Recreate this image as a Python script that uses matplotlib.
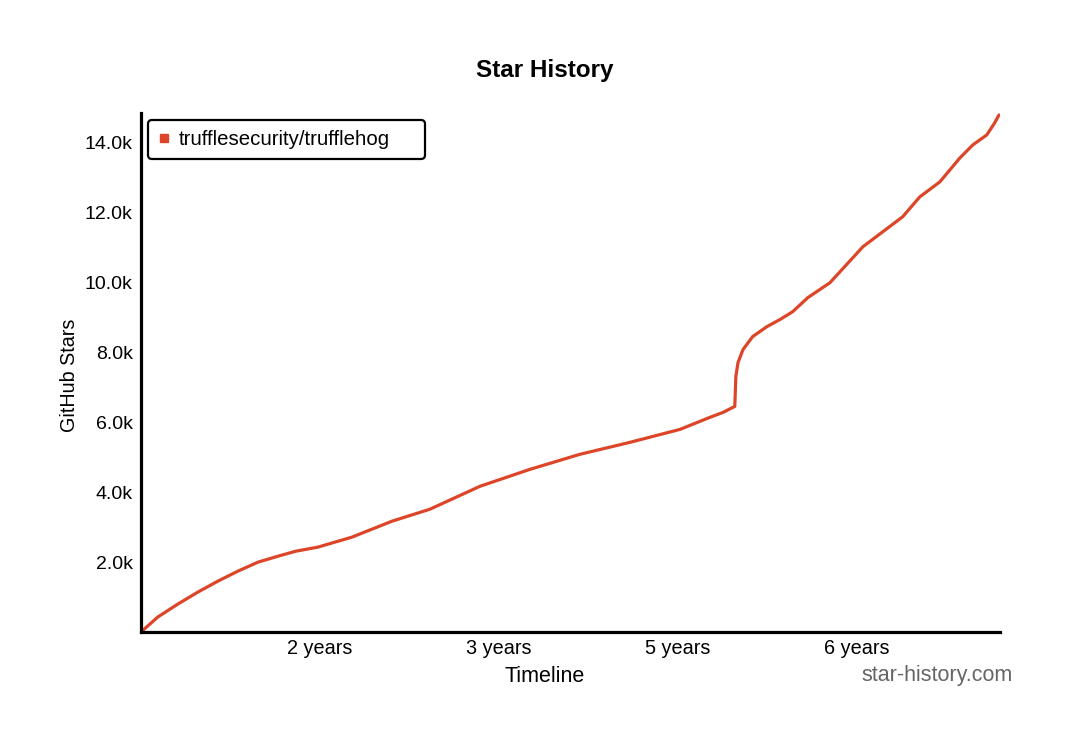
import matplotlib
matplotlib.use("Agg")
import matplotlib.pyplot as plt
from matplotlib.lines import Line2D

plt.rcParams['font.family'] = ['Liberation Sans', 'DejaVu Sans']

# days since first star vs. star count
days = [0, 47, 103, 159, 215, 271, 327, 383, 433, 494, 589, 701, 807, 947,
        1087, 1226, 1366, 1506, 1589, 1626, 1659, 1662, 1668, 1682, 1709,
        1749, 1785, 1821, 1863, 1925, 2017, 2128, 2176, 2232, 2288, 2324,
        2363, 2385, 2397]
stars = [0, 429, 800, 1143, 1457, 1743, 2000, 2171, 2314, 2429, 2714, 3171,
         3514, 4171, 4657, 5086, 5429, 5800, 6143, 6286, 6457, 7314, 7714,
         8086, 8457, 8743, 8943, 9171, 9571, 10000, 11029, 11886, 12457,
         12886, 13571, 13943, 14229, 14571, 14800]
repo = "trufflesecurity/trufflehog"

x_ticks = [500, 1000, 1500, 2000]
x_labels = ["2 years", "3 years", "5 years", "6 years"]
y_ticks = [2000, 4000, 6000, 8000, 10000, 12000, 14000]
y_labels = ["2.0k", "4.0k", "6.0k", "8.0k", "10.0k", "12.0k", "14.0k"]

red = "#dd4529"

fig = plt.figure(figsize=(10.8, 7.3), dpi=100)
ax = fig.add_axes([141/1080, 1-632/730, (1000-141)/1080, (632-113)/730])

ax.plot(days, stars, color=red, lw=2.3, solid_joinstyle='round', solid_capstyle='round')

ax.set_xlim(0, 2400)
ax.set_ylim(0, 14857)
ax.set_xticks(x_ticks, x_labels)
ax.set_yticks(y_ticks, y_labels)
ax.tick_params(length=0)
ax.tick_params(axis='x', pad=5, labelsize=14.3)
ax.tick_params(axis='y', pad=6, labelsize=14)

for s in ['top', 'right']:
    ax.spines[s].set_visible(False)
for s in ['left', 'bottom']:
    ax.spines[s].set_linewidth(2.3)
    ax.spines[s].set_color("black")

ax.set_xlabel("Timeline", fontsize=15.5)
ax.xaxis.set_label_coords((545-141)/859, (632-666)/519)
ax.set_ylabel("GitHub Stars", fontsize=14.2)
ax.yaxis.set_label_coords((79-141)/859, 0.495)
fig.suptitle("Star History", fontsize=17.5, fontweight='bold', x=545/1080, y=1-70/730, va='center')

handle = Line2D([], [], color=red, marker='s', markersize=6.3, lw=0)
leg = ax.legend([handle], [repo], loc='upper left', mode='expand', fontsize=14.7,
                frameon=True, fancybox=True, handlelength=0.6, handletextpad=0.4,
                borderpad=0.5, borderaxespad=0,
                bbox_to_anchor=((148-141)/859, 0.5, 277/859, (632-120)/519 - 0.5))
leg.get_frame().set_edgecolor("black")
leg.get_frame().set_linewidth(1.6)
leg.get_frame().set_alpha(1)

fig.text(1013/1080, 1-676/730, "star-history.com", fontsize=15.5, color="#666666",
         ha='right', va='center')

fig.savefig("out.png", dpi=100, facecolor="white")
